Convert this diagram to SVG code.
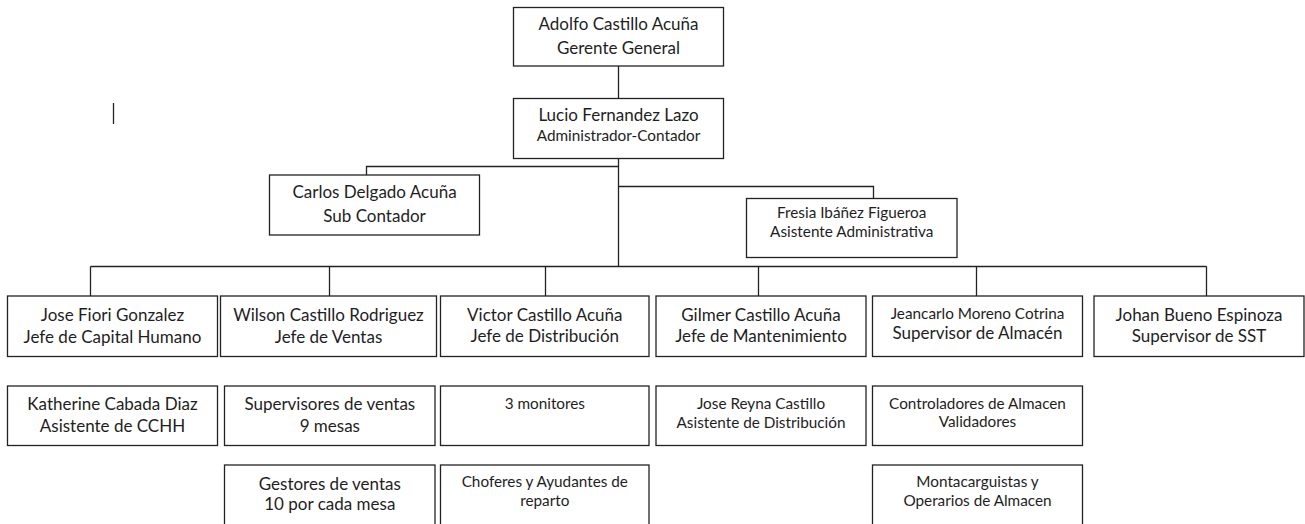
<svg xmlns="http://www.w3.org/2000/svg" width="1305" height="524" viewBox="0 0 1305 524">
<style>
.box{fill:#fff;stroke:#222;stroke-width:1.3}
.ln{fill:none;stroke:#222;stroke-width:1.3}
text{font-family:Lato,"Liberation Sans",sans-serif;fill:#1e1e1e;text-anchor:middle}
.b{font-size:17px}
.s{font-size:15.3px}
</style>
<rect width="1305" height="524" fill="#fff"/>
<g id="connectors">
<line class="ln" x1="618.5" y1="66" x2="618.5" y2="98.5"/>
<line class="ln" x1="618.5" y1="158.5" x2="618.5" y2="266.5"/>
<polyline class="ln" points="618.5,166.5 366.5,166.5 366.5,175"/>
<polyline class="ln" points="618.5,186.5 873.5,186.5 873.5,198.5"/>
<line class="ln" x1="90.5" y1="266.5" x2="1206.5" y2="266.5"/>
<line class="ln" x1="90.5" y1="266.5" x2="90.5" y2="296"/>
<line class="ln" x1="329.5" y1="266.5" x2="329.5" y2="296"/>
<line class="ln" x1="545.5" y1="266.5" x2="545.5" y2="296"/>
<line class="ln" x1="758.5" y1="266.5" x2="758.5" y2="296"/>
<line class="ln" x1="976.5" y1="266.5" x2="976.5" y2="296"/>
<line class="ln" x1="1206.5" y1="266.5" x2="1206.5" y2="296"/>
</g>
<line id="cursor" class="ln" x1="113.5" y1="103" x2="113.5" y2="124"/>
<g id="n-adolfo"><rect class="box" x="513.5" y="7.5" width="210" height="58.5"/><text class="b" x="618.5" y="29.5">Adolfo Castillo Acuña</text><text class="b" x="618.5" y="53.5">Gerente General</text></g>
<g id="n-lucio"><rect class="box" x="513.5" y="98.5" width="210" height="60"/><text class="b" x="618.5" y="120.5">Lucio Fernandez Lazo</text><text class="s" x="618.5" y="140.5">Administrador-Contador</text></g>
<g id="n-carlos"><rect class="box" x="269.5" y="175" width="210" height="60"/><text class="b" x="374.5" y="197.5">Carlos Delgado Acuña</text><text class="b" x="374.5" y="221.5">Sub Contador</text></g>
<g id="n-fresia"><rect class="box" x="746.5" y="198.5" width="210.5" height="59"/><text class="s" x="851.7" y="217.5">Fresia Ibáñez Figueroa</text><text class="s" x="851.7" y="237">Asistente Administrativa</text></g>
<g id="n-jose-fiori"><rect class="box" x="7.5" y="296" width="210" height="60.5"/><text class="b" x="112.5" y="320.5">Jose Fiori Gonzalez</text><text class="b" x="112.5" y="342.5">Jefe de Capital Humano</text></g>
<g id="n-wilson"><rect class="box" x="220.5" y="296" width="216" height="60.5"/><text class="b" x="328.5" y="320.5">Wilson Castillo Rodriguez</text><text class="b" x="328.5" y="342.5">Jefe de Ventas</text></g>
<g id="n-victor"><rect class="box" x="440.5" y="296" width="208.5" height="60.5"/><text class="b" x="544.8" y="320.5">Victor Castillo Acuña</text><text class="b" x="544.8" y="342">Jefe de Distribución</text></g>
<g id="n-gilmer"><rect class="box" x="656" y="296" width="210" height="60.5"/><text class="b" x="761" y="320.5">Gilmer Castillo Acuña</text><text class="b" x="761" y="342">Jefe de Mantenimiento</text></g>
<g id="n-jeancarlo"><rect class="box" x="872.5" y="296" width="210" height="60.5"/><text class="s" x="977.5" y="318.5">Jeancarlo Moreno Cotrina</text><text class="b" x="977.5" y="338.5">Supervisor de Almacén</text></g>
<g id="n-johan"><rect class="box" x="1094" y="296" width="210" height="60.5"/><text class="b" x="1199" y="320.5">Johan Bueno Espinoza</text><text class="b" x="1199" y="342">Supervisor de SST</text></g>
<g id="n-katherine"><rect class="box" x="7.5" y="386" width="210" height="59.5"/><text class="b" x="112.5" y="410">Katherine Cabada Diaz</text><text class="b" x="112.5" y="431.5">Asistente de CCHH</text></g>
<g id="n-supervisores"><rect class="box" x="224.5" y="386" width="210.5" height="59.5"/><text class="b" x="329.8" y="410">Supervisores de ventas</text><text class="b" x="329.8" y="431.5">9 mesas</text></g>
<g id="n-monitores"><rect class="box" x="440.5" y="386" width="208.5" height="59.5"/><text class="s" x="544.8" y="408.5">3 monitores</text></g>
<g id="n-jose-reyna"><rect class="box" x="656" y="386" width="210" height="59.5"/><text class="s" x="761" y="408.5">Jose Reyna Castillo</text><text class="s" x="761" y="428">Asistente de Distribución</text></g>
<g id="n-controladores"><rect class="box" x="872.5" y="386" width="210" height="59.5"/><text class="s" x="977.5" y="408.5">Controladores de Almacen</text><text class="s" x="977.5" y="427">Validadores</text></g>
<g id="n-gestores"><rect class="box" x="224.5" y="465" width="210.5" height="70"/><text class="b" x="329.8" y="489.5">Gestores de ventas</text><text class="b" x="329.8" y="510">10 por cada mesa</text></g>
<g id="n-choferes"><rect class="box" x="440.5" y="465" width="208.5" height="70"/><text class="s" x="544.8" y="487">Choferes y Ayudantes de</text><text class="s" x="544.8" y="506">reparto</text></g>
<g id="n-montacarguistas"><rect class="box" x="872.5" y="465" width="210" height="70"/><text class="s" x="977.5" y="487">Montacarguistas y</text><text class="s" x="977.5" y="506">Operarios de Almacen</text></g>
</svg>
